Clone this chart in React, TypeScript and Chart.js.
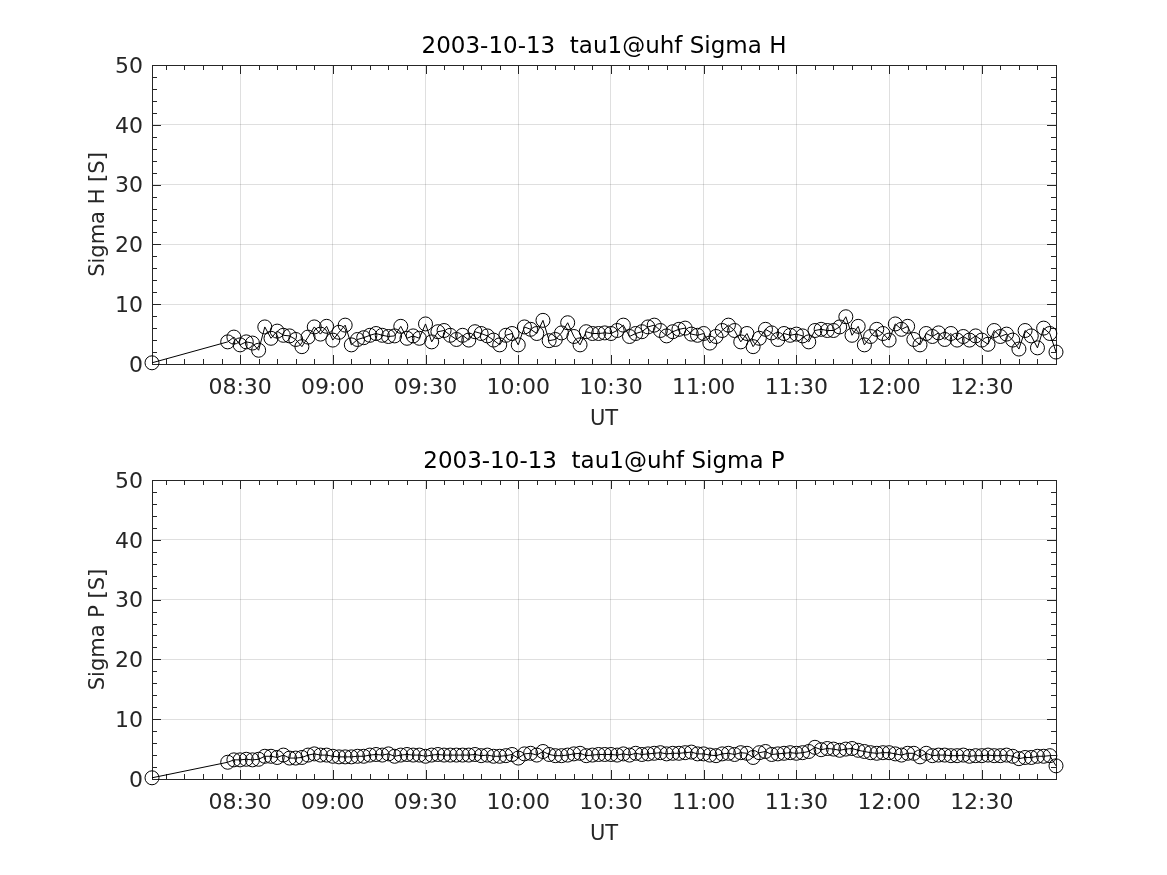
import React, { useEffect, useRef } from 'react';
import { Chart, registerables } from 'chart.js';

Chart.register(...registerables);

// ---------- data ----------
const sampleTimes: string[] = [
  '08:01:30',
  '08:26', '08:28', '08:30', '08:32', '08:34', '08:36', '08:38', '08:40', '08:42', '08:44', '08:46', '08:48', '08:50', '08:52', '08:54', '08:56', '08:58',
  '09:00', '09:02', '09:04', '09:06', '09:08', '09:10', '09:12', '09:14', '09:16', '09:18', '09:20', '09:22', '09:24', '09:26', '09:28',
  '09:30', '09:32', '09:34', '09:36', '09:38', '09:40', '09:42', '09:44', '09:46', '09:48', '09:50', '09:52', '09:54', '09:56', '09:58',
  '10:00', '10:02', '10:04', '10:06', '10:08', '10:10', '10:12', '10:14', '10:16', '10:18', '10:20', '10:22', '10:24', '10:26', '10:28',
  '10:30', '10:32', '10:34', '10:36', '10:38', '10:40', '10:42', '10:44', '10:46', '10:48', '10:50', '10:52', '10:54', '10:56', '10:58',
  '11:00', '11:02', '11:04', '11:06', '11:08', '11:10', '11:12', '11:14', '11:16', '11:18', '11:20', '11:22', '11:24', '11:26', '11:28',
  '11:30', '11:32', '11:34', '11:36', '11:38', '11:40', '11:42', '11:44', '11:46', '11:48', '11:50', '11:52', '11:54', '11:56', '11:58',
  '12:00', '12:02', '12:04', '12:06', '12:08', '12:10', '12:12', '12:14', '12:16', '12:18', '12:20', '12:22', '12:24', '12:26', '12:28',
  '12:30', '12:32', '12:34', '12:36', '12:38', '12:40', '12:42', '12:44', '12:46', '12:48', '12:50', '12:52', '12:54',
];

const sigmaH: number[] = [
  0.2,
  3.7, 4.5, 3.2, 3.7, 3.5, 2.3, 6.2, 4.3, 5.5, 4.8, 4.7, 4.1, 2.9, 4.5, 6.2, 5.0, 6.3, 4.0, 5.3, 6.5,
  3.2, 4.1, 4.4, 4.8, 5.1, 4.8, 4.6, 4.7, 6.3, 4.3, 4.7, 4.3, 6.7, 3.7, 5.4, 5.6,
  4.8, 4.1, 4.8, 4.0, 5.4, 5.1, 4.7, 4.0, 3.2, 4.8, 5.1, 3.2, 6.2, 5.8, 5.1, 7.3, 3.9, 4.1, 5.2, 6.9,
  4.6, 3.2, 5.4, 5.1, 5.1, 5.2, 5.1, 5.6, 6.5, 4.6, 5.1, 5.4, 6.2, 6.5, 5.6, 4.7, 5.4, 5.8, 6.0, 5.0,
  4.8, 5.1, 3.5, 4.6, 5.6, 6.5, 5.6, 3.7,
  5.1, 2.9, 4.3, 5.8, 5.2, 4.1, 5.1, 4.8, 5.0, 4.7, 3.7, 5.6, 5.8, 5.6, 5.6, 6.2, 7.9, 4.8, 6.3, 3.2,
  4.6, 5.8, 5.1, 4.0, 6.7, 5.8, 6.3, 4.1, 3.2, 5.1, 4.6, 5.2, 4.1, 5.1, 4.0, 4.6, 4.0, 4.7, 4.0, 3.3,
  5.6, 4.6, 5.0, 4.0, 2.5, 5.6, 4.7, 2.7, 6.0, 5.1, 2.0,
];

const sigmaP: number[] = [
  0.2,
  2.8, 3.2, 3.2, 3.3, 3.2, 3.3, 3.8, 3.8, 3.6, 4.0, 3.5, 3.5, 3.6, 4.0, 4.2, 4.0, 4.0, 3.8, 3.7, 3.7,
  3.7, 3.8, 3.8, 4.0, 4.1, 4.0, 4.2, 3.8, 4.0, 4.1, 4.0, 4.0, 3.8, 4.0, 4.1, 4.0,
  4.0, 4.0, 4.0, 4.0, 4.1, 3.9, 4.0, 3.8, 3.8, 3.9,
  4.1, 3.5, 4.2, 4.3, 4.0, 4.6, 4.1, 3.9, 3.9, 4.0,
  4.2, 4.3, 3.9, 4.0, 4.1, 4.1, 4.1, 4.0, 4.2, 4.0,
  4.3, 4.1, 4.2, 4.3, 4.4, 4.2, 4.3, 4.3, 4.4, 4.5,
  4.2, 4.2, 4.0, 3.9,
  4.2, 4.3, 4.1, 4.4, 4.3,
  3.6,
  4.4, 4.6, 4.1, 4.2, 4.3, 4.4, 4.3, 4.4, 4.6,
  5.3, 4.9, 5.1, 5.0, 4.8, 5.0, 5.1, 4.8, 4.6, 4.4,
  4.3, 4.4, 4.4, 4.2, 4.0, 4.3, 4.3,
  3.7,
  4.3, 3.9, 4.0, 4.0, 3.9, 3.9, 4.0, 3.8, 3.9, 3.9, 4.0, 3.9, 3.9, 4.0, 3.8,
  3.4, 3.6, 3.6, 3.8, 3.8, 3.9, 2.2,
];

const plotDate = '2003-10-13';
const titleH = `${plotDate}  tau1@uhf Sigma H`;
const titleP = `${plotDate}  tau1@uhf Sigma P`;
const yLabelH = 'Sigma H [S]';
const yLabelP = 'Sigma P [S]';
const xLabel = 'UT';
const yMin = 0;
const yMax = 50;
const yMajorStep = 10;
const yMinorStep = 2;
const xMajorStepMin = 30;
const xMinorStepMin = 6;

// ---------- helpers ----------
const FONT = '"DejaVu Sans", "Liberation Sans", sans-serif';
const AXIS_COLOR = '#262626';
const GRID_COLOR = 'rgba(38,38,38,0.15)';

const toMinutes = (s: string): number => {
  const parts = s.split(':').map(Number);
  return parts[0] * 60 + parts[1] + (parts[2] || 0) / 60;
};
const fmtHM = (v: number): string => {
  const h = Math.floor(v / 60);
  const m = Math.round(v - h * 60);
  return `${String(h).padStart(2, '0')}:${String(m).padStart(2, '0')}`;
};
const isMultiple = (v: number, step: number) => Math.abs(v / step - Math.round(v / step)) < 1e-6;

const matlabAxesPlugin = {
  id: 'matlabAxes',
  beforeDatasetsDraw(chart: any) {
    const { ctx, chartArea } = chart;
    const { left, right, top, bottom } = chartArea;
    const xs = chart.scales.x;
    const ys = chart.scales.y;
    ctx.save();
    ctx.strokeStyle = AXIS_COLOR;
    ctx.lineWidth = 1;
    ctx.beginPath();
    xs.ticks.forEach((t: any) => {
      const px = Math.round(xs.getPixelForValue(t.value)) + 0.5;
      const len = isMultiple(t.value, xMajorStepMin) ? 9 : 5;
      ctx.moveTo(px, bottom);
      ctx.lineTo(px, bottom - len);
      ctx.moveTo(px, top);
      ctx.lineTo(px, top + len);
    });
    ys.ticks.forEach((t: any) => {
      const py = Math.round(ys.getPixelForValue(t.value)) + 0.5;
      const len = isMultiple(t.value, yMajorStep) ? 9 : 5;
      ctx.moveTo(left, py);
      ctx.lineTo(left + len, py);
      ctx.moveTo(right, py);
      ctx.lineTo(right - len, py);
    });
    ctx.stroke();
    ctx.strokeRect(Math.round(left) + 0.5, Math.round(top) + 0.5, Math.round(right - left), Math.round(bottom - top));
    ctx.restore();
  },
};

interface PanelProps {
  values: number[];
  title: string;
  yLabel: string;
  top: number;
}

const CANVAS_W = 1167;
const CANVAS_H = 437;

function SigmaPanel({ values, title, yLabel, top }: PanelProps) {
  const ref = useRef<HTMLCanvasElement | null>(null);

  useEffect(() => {
    if (!ref.current) return;
    const xs = sampleTimes.map(toMinutes);
    const xMin = xs[0];
    const xMax = xs[xs.length - 1];
    const points = xs.map((x, i) => ({ x, y: values[i] }));

    const chart = new Chart(ref.current, {
      type: 'line',
      data: {
        datasets: [
          {
            data: points,
            borderColor: '#000',
            borderWidth: 1,
            pointRadius: 7,
            pointHoverRadius: 7,
            pointBorderWidth: 1,
            pointBorderColor: '#000',
            pointBackgroundColor: 'rgba(0,0,0,0)',
            tension: 0,
            clip: false,
          } as any,
        ],
      },
      options: {
        responsive: false,
        animation: false,
        devicePixelRatio: 1,
        layout: { padding: { left: 86, right: 111, top: 0, bottom: 0 } },
        plugins: {
          legend: { display: false },
          tooltip: { enabled: false },
          title: {
            display: true,
            fullSize: false,
            text: title,
            color: '#000',
            font: { family: FONT, size: 23, weight: 'normal', lineHeight: 1 },
            padding: { top: 36, bottom: 6 },
          },
        },
        scales: {
          x: {
            type: 'linear',
            min: xMin,
            max: xMax,
            afterBuildTicks: (scale: any) => {
              const ticks = [];
              for (let v = Math.ceil(xMin / xMinorStepMin) * xMinorStepMin; v <= xMax + 1e-9; v += xMinorStepMin) {
                ticks.push({ value: v });
              }
              scale.ticks = ticks;
            },
            afterFit: (scale: any) => {
              scale.height = 73;
            },
            border: { display: false },
            grid: {
              drawTicks: false,
              lineWidth: 1,
              color: (c: any) => (c.tick && isMultiple(c.tick.value, xMajorStepMin) ? GRID_COLOR : 'rgba(0,0,0,0)'),
            },
            ticks: {
              autoSkip: false,
              maxRotation: 0,
              minRotation: 0,
              padding: 11,
              color: AXIS_COLOR,
              font: { family: FONT, size: 22 },
              callback: (v: any) => (isMultiple(Number(v), xMajorStepMin) ? fmtHM(Number(v)) : ''),
            },
            title: {
              display: true,
              text: xLabel,
              color: AXIS_COLOR,
              font: { family: FONT, size: 21 },
              padding: { top: 0, bottom: 5 },
            },
          },
          y: {
            type: 'linear',
            min: yMin,
            max: yMax,
            afterBuildTicks: (scale: any) => {
              const ticks = [];
              for (let v = yMin; v <= yMax + 1e-9; v += yMinorStep) ticks.push({ value: v });
              scale.ticks = ticks;
            },
            afterFit: (scale: any) => {
              scale.width = 66;
            },
            border: { display: false },
            grid: {
              drawTicks: false,
              lineWidth: 1,
              color: (c: any) => (c.tick && isMultiple(c.tick.value, yMajorStep) ? GRID_COLOR : 'rgba(0,0,0,0)'),
            },
            ticks: {
              autoSkip: false,
              padding: 9,
              labelOffset: 2,
              color: AXIS_COLOR,
              font: { family: FONT, size: 22 },
              callback: (v: any) => (isMultiple(Number(v), yMajorStep) ? String(v) : ''),
            },
            title: {
              display: true,
              text: yLabel,
              color: AXIS_COLOR,
              font: { family: FONT, size: 21 },
              padding: { top: 0, bottom: 0 },
            },
          },
        },
      } as any,
      plugins: [matlabAxesPlugin],
    });
    return () => chart.destroy();
  }, [values, title, yLabel]);

  return (
    <canvas
      ref={ref}
      width={CANVAS_W}
      height={CANVAS_H}
      style={{ position: 'absolute', left: 0, top, width: CANVAS_W, height: CANVAS_H }}
    />
  );
}

export default function App() {
  return (
    <div style={{ position: 'absolute', left: 0, top: 0, width: 1167, height: 875, background: '#fff', overflow: 'hidden' }}>
      <SigmaPanel values={sigmaH} title={titleH} yLabel={yLabelH} top={0} />
      <SigmaPanel values={sigmaP} title={titleP} yLabel={yLabelP} top={415} />
    </div>
  );
}
